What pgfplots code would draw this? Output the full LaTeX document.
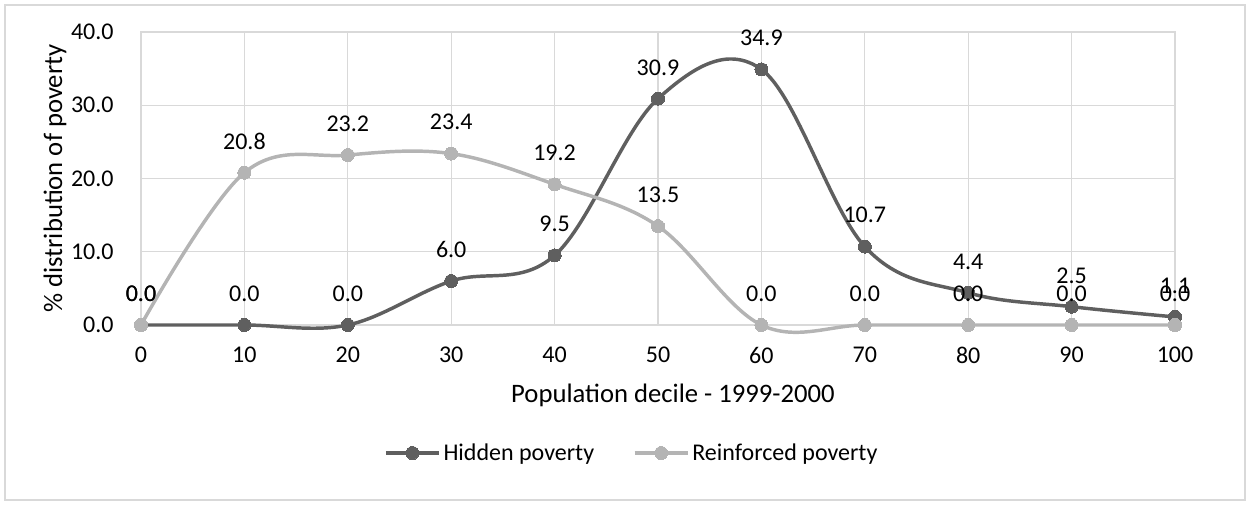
\documentclass[border=0pt]{standalone}
\usepackage{pgfplots}
\pgfplotsset{compat=1.18}
\usepackage{fontspec}
\setmainfont{Carlito}

\definecolor{hidden}{HTML}{5F5F5F}
\definecolor{reinf}{HTML}{B4B4B4}
\definecolor{gridc}{HTML}{D9D9D9}

\tikzset{
  onedec/.style={
    /pgf/number format/fixed,
    /pgf/number format/fixed zerofill,
    /pgf/number format/precision=1,
    /pgf/number format/assume math mode=true,
  },
}

\begin{document}
\begin{tikzpicture}[font=\fontsize{18}{21}\selectfont]
\def\px{0.75pt}
\path[use as bounding box] (0,0) rectangle (1250*\px,-506*\px);
\draw[gridc, line width=0.9pt] (5*\px,-5*\px) rectangle (1245*\px,-500*\px);
\begin{axis}[
  scale only axis,
  width=1034*\px, height=293*\px,
  at={(141*\px,-325*\px)}, anchor=south west,
  xmin=0, xmax=100, ymin=0, ymax=40,
  xtick={0,10,...,100}, ytick={0,10,...,40},
  grid=major,
  major grid style={gridc, line width=0.9pt},
  axis line style={gridc, line width=0.9pt},
  tick style={draw=none},
  ticklabel style={font=\fontsize{18}{21}\selectfont},
  yticklabel style={onedec, anchor=east, xshift=-17pt},
  xticklabel style={/pgf/number format/assume math mode=true, anchor=center, yshift=-22.5pt},
  xlabel={Population decile - 1999-2000},
  ylabel={\% distribution of poverty},
  label style={font=\fontsize{20}{24}\selectfont},
  xlabel style={at={(axis description cs:0.5145,0)}, anchor=center, yshift=-52.5pt},
  ylabel style={at={(axis description cs:0,0.5)}, anchor=center, yshift=64.5pt},
  legend columns=2,
  legend style={draw=none, at={(axis description cs:0.4749,-0.437)}, anchor=center,
    /tikz/every even column/.append style={column sep=27pt},
    font=\fontsize{18}{21}\selectfont},
  legend cell align=left,
  legend image code/.code={
    \draw[#1, mark repeat=2, mark phase=2] plot coordinates {(0pt,0pt) (20pt,0pt) (40pt,0pt)};
  },
  nodes near coords,
  nodes near coords style={onedec, anchor=center, yshift=23.5pt, text=black,
    font=\fontsize{18}{21}\selectfont},
  clip=false,
]
\addplot[hidden, line width=2.6pt, smooth, tension=0.6,
  mark=*, mark size=4.9pt, mark options={fill=hidden, draw=hidden, line width=0pt}]
  coordinates {(0,0) (10,0) (20,0) (30,6.0) (40,9.5) (50,30.9) (60,34.9) (70,10.7) (80,4.4) (90,2.5) (100,1.1)};
\addlegendentry{Hidden poverty}
\addplot[reinf, line width=2.6pt, smooth, tension=0.6,
  mark=*, mark size=4.9pt, mark options={fill=reinf, draw=reinf, line width=0pt}]
  coordinates {(0,0) (10,20.8) (20,23.2) (30,23.4) (40,19.2) (50,13.5) (60,0) (70,0) (80,0) (90,0) (100,0)};
\addlegendentry{Reinforced poverty}
\end{axis}
\end{tikzpicture}
\end{document}
